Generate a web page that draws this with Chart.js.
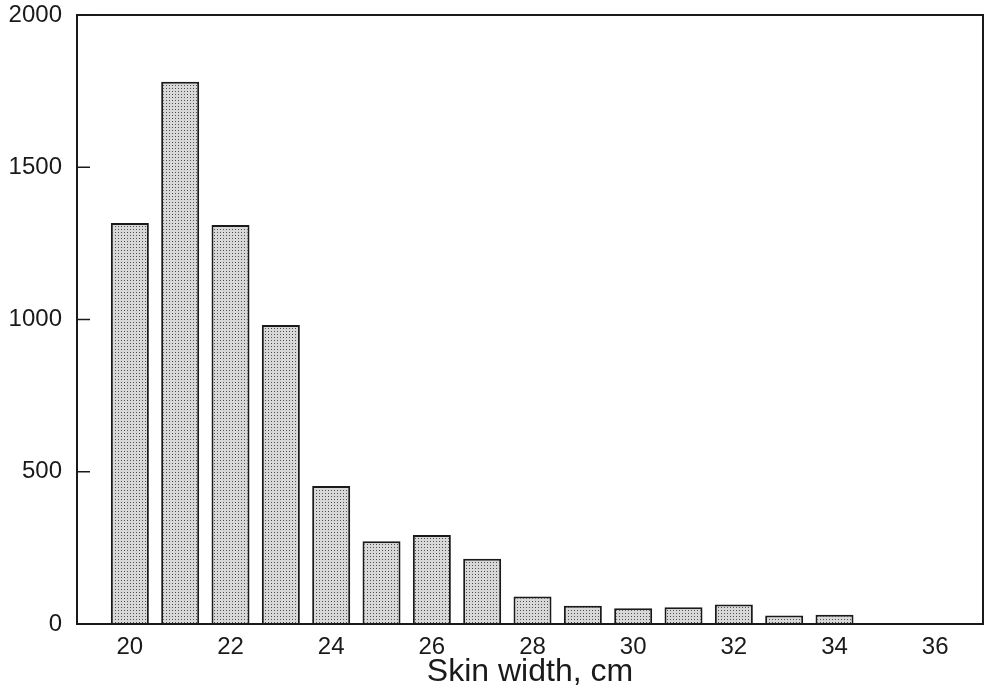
<!DOCTYPE html>
<html>
<head>
<meta charset="utf-8">
<script src="https://cdn.jsdelivr.net/npm/chart.js@4"></script>
<style>
  html, body { margin: 0; padding: 0; background: #fff; }
  #wrap { width: 991px; height: 694px; }
</style>
</head>
<body>
<div id="wrap"><canvas id="c" width="991" height="694"></canvas></div>
<script>
// Data
const skinWidths = [20, 21, 22, 23, 24, 25, 26, 27, 28, 29, 30, 31, 32, 33, 34, 35, 36];
const counts     = [1317, 1781, 1310, 982, 453, 272, 292, 214, 90, 60, 52, 55, 64, 28, 30, 0, 0];
const xTickLabels = [20, 22, 24, 26, 28, 30, 32, 34, 36];
const yTickLabels = [0, 500, 1000, 1500, 2000];
const xTitle = 'Skin width, cm';

// Dotted grey fill pattern
const pc = document.createElement('canvas');
pc.width = 3; pc.height = 3;
const pctx = pc.getContext('2d');
pctx.fillStyle = '#d8d8d8';
pctx.fillRect(0, 0, 3, 3);
pctx.fillStyle = '#505050';
pctx.fillRect(1, 1, 1, 1);
const ctx = document.getElementById('c').getContext('2d');
const pattern = ctx.createPattern(pc, 'repeat');

const FONT = '"Liberation Sans", Arial, Helvetica, sans-serif';
const INK = '#1a1a1a';

const boxPlugin = {
  id: 'box',
  afterDatasetsDraw(chart) {
    const { ctx, chartArea: a, scales } = chart;
    ctx.save();
    ctx.strokeStyle = INK;
    ctx.lineWidth = 2;
    ctx.strokeRect(a.left, a.top, a.right - a.left, a.bottom - a.top);
    // inward major tick marks on y axis
    ctx.lineWidth = 1.5;
    scales.y.ticks.forEach(t => {
      const py = scales.y.getPixelForValue(t.value);
      ctx.beginPath();
      ctx.moveTo(a.left, py);
      ctx.lineTo(a.left + 13, py);
      ctx.stroke();
    });
    ctx.restore();
  }
};

new Chart(ctx, {
  type: 'bar',
  data: {
    datasets: [{
      data: skinWidths.map((x, i) => ({ x: x, y: counts[i] })),
      backgroundColor: pattern,
      borderColor: INK,
      borderWidth: 2,
      borderSkipped: 'bottom',
      barPercentage: 0.755,
      categoryPercentage: 1.0
    }]
  },
  options: {
    responsive: false,
    animation: false,
    devicePixelRatio: 1,
    layout: { padding: { left: 0, top: 15, right: 8, bottom: 0 } },
    plugins: {
      legend: { display: false },
      tooltip: { enabled: false }
    },
    scales: {
      x: {
        type: 'linear',
        offset: false,
        min: 18.95,
        max: 36.95,
        afterBuildTicks(scale) { scale.ticks = xTickLabels.map(v => ({ value: v })); },
        afterFit(scale) { scale.height = 70; scale.paddingLeft = 0; scale.paddingRight = 0; },
        grid: { display: false, drawTicks: false },
        border: { display: false },
        ticks: {
          padding: 9,
          autoSkip: false,
          maxRotation: 0,
          color: INK,
          font: { family: FONT, size: 24 },
          callback: v => String(v)
        },
        title: {
          display: true,
          text: xTitle,
          color: INK,
          font: { family: FONT, size: 32 },
          padding: { top: 0, bottom: 3 }
        }
      },
      y: {
        type: 'linear',
        min: 0,
        max: 2000,
        afterBuildTicks(scale) { scale.ticks = yTickLabels.map(v => ({ value: v })); },
        afterFit(scale) { scale.width = 77; scale.paddingTop = 0; scale.paddingBottom = 0; },
        grid: { display: false, drawTicks: false },
        border: { display: false },
        ticks: {
          padding: 15,
          color: INK,
          font: { family: FONT, size: 24 },
          callback: v => String(v)
        }
      }
    }
  },
  plugins: [boxPlugin]
});
</script>
</body>
</html>
